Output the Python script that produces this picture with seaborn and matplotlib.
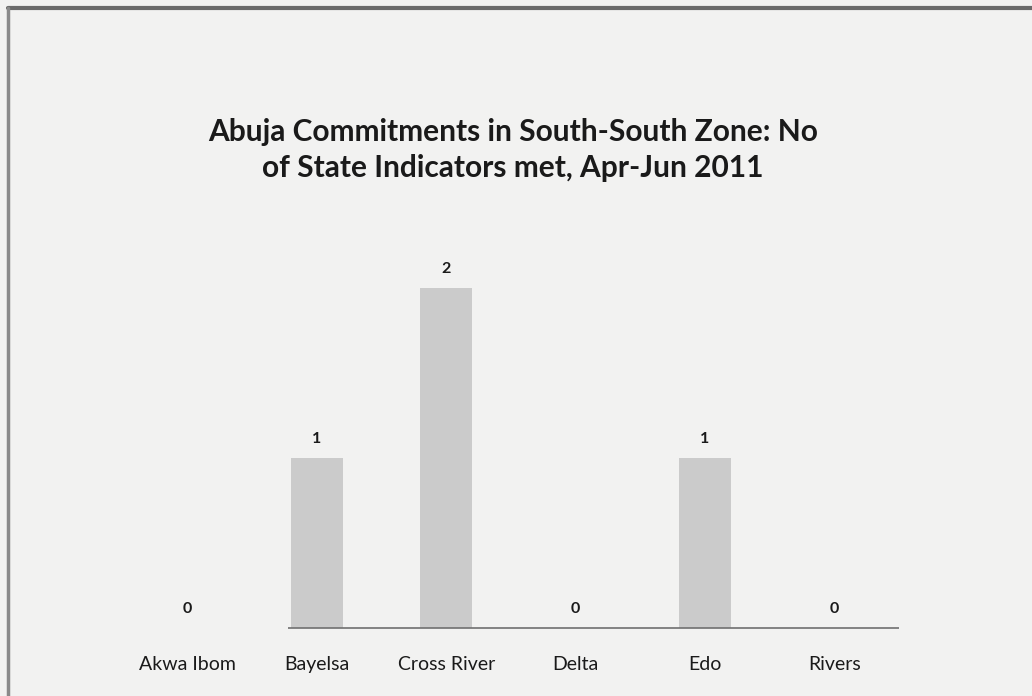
import matplotlib
matplotlib.use("Agg")
import matplotlib.pyplot as plt
import seaborn as sns
import pandas as pd
from matplotlib.lines import Line2D

states = ["Akwa Ibom", "Bayelsa", "Cross River", "Delta", "Edo", "Rivers"]
indicators_met = [0, 1, 2, 0, 1, 0]

df = pd.DataFrame({"State": states, "Indicators": indicators_met})

sns.set_style("white")
plt.rcParams["font.family"] = ["Lato", "DejaVu Sans"]

bg = "#f2f2f1"
fig = plt.figure(figsize=(10.32, 6.96), dpi=100, facecolor=bg)
ax = fig.add_axes([0.119, 0.0977, 0.752, 0.611])
ax.set_facecolor(bg)

sns.barplot(data=df, x="State", y="Indicators", color="#cbcbcb", width=0.4,
            saturation=1, edgecolor="none", ax=ax)

ax.set_xlim(-0.5, 5.5)
ax.set_ylim(0, 2.5)
for s in ax.spines.values():
    s.set_visible(False)
ax.hlines(0, 0.78, 5.5, color="#707070", lw=1.2, clip_on=False)
ax.set_yticks([])
ax.set_xlabel("")
ax.set_ylabel("")
ax.tick_params(axis="x", length=0, pad=20, labelsize=14, labelcolor="#1a1a1a")

for i, v in enumerate(indicators_met):
    ax.text(i, v + 0.07, str(v), ha="center", va="bottom", fontsize=11.5,
            fontweight="bold", color="#1a1a1a")

fig.text(0.497, 0.739, "Abuja Commitments in South-South Zone: No\nof State Indicators met, Apr-Jun 2011",
         ha="center", va="bottom", fontsize=21.5, fontweight="bold",
         color="#1a1a1a", linespacing=1.34)

# scanned page frame
fig.add_artist(Line2D([0.008, 1.0], [0.988, 0.988], color="#6a6a6a", lw=3))
fig.add_artist(Line2D([0.008, 0.008], [0.0, 0.988], color="#8a8a8a", lw=2.5))

fig.savefig("out.png", dpi=100, facecolor=bg)
